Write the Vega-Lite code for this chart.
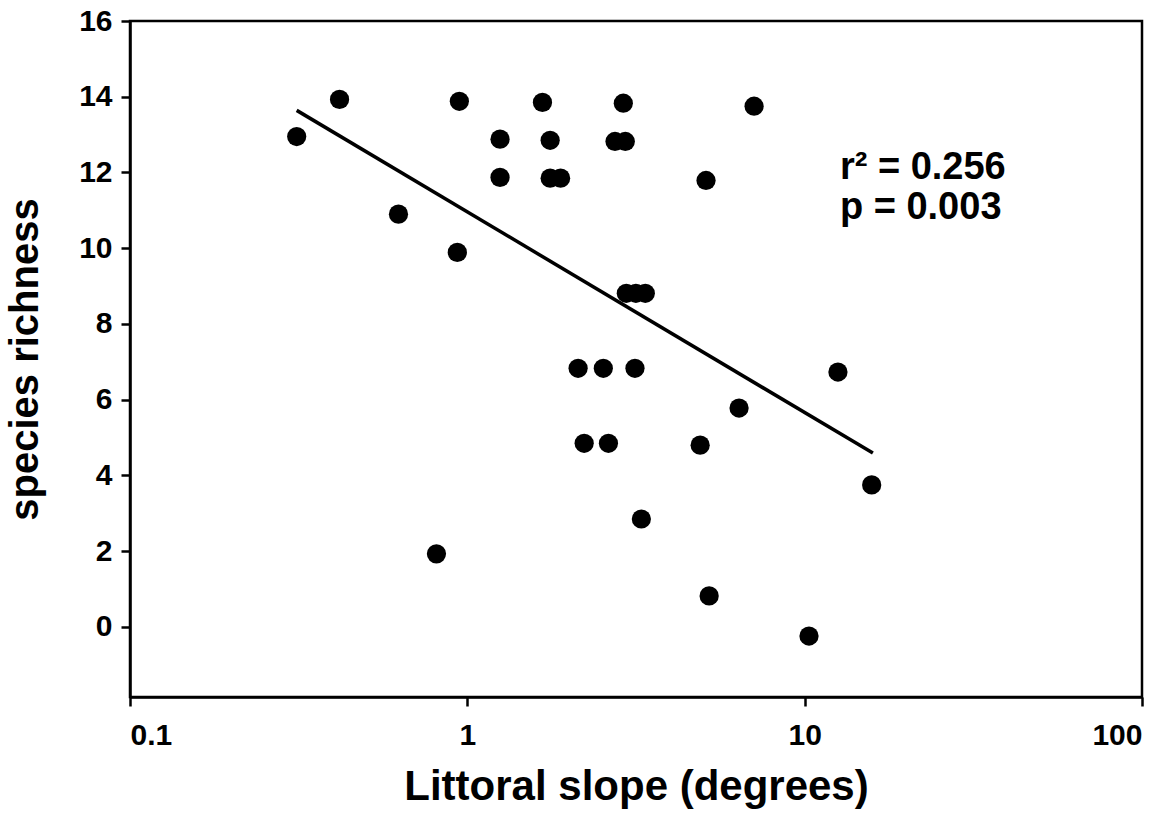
{
  "$schema": "https://vega.github.io/schema/vega-lite/v6.json",
  "autosize": {"type": "none"},
  "padding": {"left": 130, "top": 21, "right": 28, "bottom": 141},
  "width": 1012,
  "height": 676,
  "background": "white",
  "config": {
    "view": {"stroke": "black", "strokeWidth": 2.5},
    "font": "Liberation Sans",
    "axis": {
      "grid": false,
      "domainColor": "black",
      "domainWidth": 2.5,
      "tickColor": "black",
      "tickWidth": 2.5,
      "labelFont": "Liberation Sans",
      "labelFontWeight": "bold",
      "labelColor": "black",
      "titleFont": "Liberation Sans",
      "titleFontWeight": "bold",
      "titleColor": "black"
    }
  },
  "layer": [
    {
      "data": {"values": [
        {"slope": 0.312, "richness": 12.95},
        {"slope": 0.418, "richness": 13.93},
        {"slope": 0.625, "richness": 10.9},
        {"slope": 0.81, "richness": 1.93},
        {"slope": 0.934, "richness": 9.89},
        {"slope": 0.947, "richness": 13.88},
        {"slope": 1.25, "richness": 12.88},
        {"slope": 1.25, "richness": 11.87},
        {"slope": 1.67, "richness": 13.85},
        {"slope": 1.76, "richness": 12.85},
        {"slope": 1.76, "richness": 11.85},
        {"slope": 1.89, "richness": 11.85},
        {"slope": 2.13, "richness": 6.83},
        {"slope": 2.22, "richness": 4.85},
        {"slope": 2.53, "richness": 6.83},
        {"slope": 2.62, "richness": 4.85},
        {"slope": 2.74, "richness": 12.82},
        {"slope": 2.94, "richness": 12.82},
        {"slope": 2.9, "richness": 13.83},
        {"slope": 2.96, "richness": 8.81},
        {"slope": 3.16, "richness": 8.81},
        {"slope": 3.37, "richness": 8.81},
        {"slope": 3.14, "richness": 6.83},
        {"slope": 3.28, "richness": 2.85},
        {"slope": 4.9, "richness": 4.8},
        {"slope": 5.1, "richness": 11.79},
        {"slope": 5.21, "richness": 0.82},
        {"slope": 6.39, "richness": 5.78},
        {"slope": 7.08, "richness": 13.75},
        {"slope": 10.3, "richness": -0.24},
        {"slope": 12.55, "richness": 6.73},
        {"slope": 15.8, "richness": 3.75}
      ]},
      "mark": {"type": "point", "filled": true, "shape": "circle", "size": 370, "color": "black", "opacity": 1},
      "encoding": {
        "x": {
          "field": "slope", "type": "quantitative",
          "scale": {"type": "log", "domain": [0.1, 100], "nice": false},
          "axis": {
            "title": "Littoral slope (degrees)",
            "values": [0.1, 1, 10, 100],
            "format": "~g",
            "tickSize": 9,
            "labelFontSize": 30,
            "labelPadding": 14,
            "titleFontSize": 42,
            "titlePadding": 16
          }
        },
        "y": {
          "field": "richness", "type": "quantitative",
          "scale": {"domain": [-1.85, 16], "nice": false, "zero": false},
          "axis": {
            "title": "species richness",
            "values": [0, 2, 4, 6, 8, 10, 12, 14, 16],
            "tickSize": 9,
            "labelFontSize": 30,
            "labelPadding": 9,
            "titleFontSize": 40,
            "titlePadding": 33
          }
        }
      }
    },
    {
      "data": {"values": [
        {"slope": 0.312, "richness": 13.64},
        {"slope": 15.93, "richness": 4.59}
      ]},
      "mark": {"type": "line", "color": "black", "strokeWidth": 3.5},
      "encoding": {
        "x": {"field": "slope", "type": "quantitative"},
        "y": {"field": "richness", "type": "quantitative"}
      }
    },
    {
      "data": {"values": [
        {"slope": 12.72, "richness": 11.82, "label": "r² = 0.256"},
        {"slope": 12.72, "richness": 10.76, "label": "p = 0.003"}
      ]},
      "mark": {"type": "text", "align": "left", "baseline": "alphabetic", "fontSize": 38, "fontWeight": "bold", "font": "Liberation Sans", "color": "black"},
      "encoding": {
        "x": {"field": "slope", "type": "quantitative"},
        "y": {"field": "richness", "type": "quantitative"},
        "text": {"field": "label", "type": "nominal"}
      }
    }
  ]
}
